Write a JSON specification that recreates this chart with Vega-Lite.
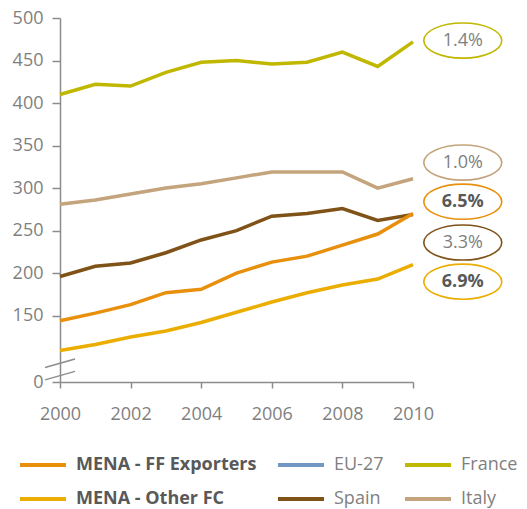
{
  "$schema": "https://vega.github.io/schema/vega-lite/v6.json",
  "width": 353,
  "height": 364,
  "autosize": {"type": "none"},
  "padding": {"left": 60, "top": 18, "right": 114, "bottom": 127},
  "config": {"view": {"stroke": null}, "font": "Open Sans"},
  "datasets": {
    "series": [
      {"series": "France", "year": 2000, "value": 410},
      {"series": "France", "year": 2001, "value": 422},
      {"series": "France", "year": 2002, "value": 420},
      {"series": "France", "year": 2003, "value": 436},
      {"series": "France", "year": 2004, "value": 448},
      {"series": "France", "year": 2005, "value": 450},
      {"series": "France", "year": 2006, "value": 446},
      {"series": "France", "year": 2007, "value": 448},
      {"series": "France", "year": 2008, "value": 460},
      {"series": "France", "year": 2009, "value": 443},
      {"series": "France", "year": 2010, "value": 472},
      {"series": "Italy", "year": 2000, "value": 281},
      {"series": "Italy", "year": 2001, "value": 286},
      {"series": "Italy", "year": 2002, "value": 293},
      {"series": "Italy", "year": 2003, "value": 300},
      {"series": "Italy", "year": 2004, "value": 305},
      {"series": "Italy", "year": 2005, "value": 312},
      {"series": "Italy", "year": 2006, "value": 319},
      {"series": "Italy", "year": 2007, "value": 319},
      {"series": "Italy", "year": 2008, "value": 319},
      {"series": "Italy", "year": 2009, "value": 300},
      {"series": "Italy", "year": 2010, "value": 311},
      {"series": "Spain", "year": 2000, "value": 196},
      {"series": "Spain", "year": 2001, "value": 208},
      {"series": "Spain", "year": 2002, "value": 212},
      {"series": "Spain", "year": 2003, "value": 224},
      {"series": "Spain", "year": 2004, "value": 239},
      {"series": "Spain", "year": 2005, "value": 250},
      {"series": "Spain", "year": 2006, "value": 267},
      {"series": "Spain", "year": 2007, "value": 270},
      {"series": "Spain", "year": 2008, "value": 276},
      {"series": "Spain", "year": 2009, "value": 262},
      {"series": "Spain", "year": 2010, "value": 269},
      {"series": "MENA - FF Exporters", "year": 2000, "value": 144},
      {"series": "MENA - FF Exporters", "year": 2001, "value": 153},
      {"series": "MENA - FF Exporters", "year": 2002, "value": 163},
      {"series": "MENA - FF Exporters", "year": 2003, "value": 177},
      {"series": "MENA - FF Exporters", "year": 2004, "value": 181},
      {"series": "MENA - FF Exporters", "year": 2005, "value": 200},
      {"series": "MENA - FF Exporters", "year": 2006, "value": 213},
      {"series": "MENA - FF Exporters", "year": 2007, "value": 220},
      {"series": "MENA - FF Exporters", "year": 2008, "value": 233},
      {"series": "MENA - FF Exporters", "year": 2009, "value": 246},
      {"series": "MENA - FF Exporters", "year": 2010, "value": 270},
      {"series": "MENA - Other FC", "year": 2000, "value": 109},
      {"series": "MENA - Other FC", "year": 2001, "value": 116},
      {"series": "MENA - Other FC", "year": 2002, "value": 125},
      {"series": "MENA - Other FC", "year": 2003, "value": 132},
      {"series": "MENA - Other FC", "year": 2004, "value": 142},
      {"series": "MENA - Other FC", "year": 2005, "value": 154},
      {"series": "MENA - Other FC", "year": 2006, "value": 166},
      {"series": "MENA - Other FC", "year": 2007, "value": 177},
      {"series": "MENA - Other FC", "year": 2008, "value": 186},
      {"series": "MENA - Other FC", "year": 2009, "value": 193},
      {"series": "MENA - Other FC", "year": 2010, "value": 210}
    ],
    "labels": [
      {"series": "France", "year": 2011.41, "value": 473.5, "label": "1.4%"},
      {"series": "Italy", "year": 2011.41, "value": 330, "label": "1.0%"},
      {"series": "MENA - FF Exporters", "year": 2011.41, "value": 284, "label": "6.5%"},
      {"series": "Spain", "year": 2011.41, "value": 236, "label": "3.3%"},
      {"series": "MENA - Other FC", "year": 2011.41, "value": 190, "label": "6.9%"}
    ],
    "breaks": [
      {"x1": 1999.575, "x2": 2000.425, "y1": 89, "y2": 99},
      {"x1": 1999.575, "x2": 2000.425, "y1": 74.5, "y2": 84.5}
    ]
  },
  "layer": [
    {
      "data": {"name": "series"},
      "mark": {"type": "line", "strokeWidth": 3.5},
      "encoding": {
        "x": {
          "field": "year", "type": "quantitative",
          "scale": {"domain": [2000, 2010], "nice": false},
          "axis": {
            "title": null, "values": [2000, 2002, 2004, 2006, 2008, 2010], "format": "d",
            "grid": false, "tickSize": 6, "labelFontSize": 18, "labelColor": "#7f7f7f",
            "domainColor": "#8c8c8c", "tickColor": "#8c8c8c", "domainWidth": 1.5, "tickWidth": 1.5,
            "labelPadding": 17, "labelFlush": false
          }
        },
        "y": {
          "field": "value", "type": "quantitative",
          "scale": {"domain": [72, 500], "nice": false, "zero": false},
          "axis": {
            "title": null, "values": [72, 150, 200, 250, 300, 350, 400, 450, 500],
            "labelExpr": "datum.value < 100 ? '0' : datum.label",
            "grid": false, "tickSize": 8, "labelFontSize": 18, "labelColor": "#7f7f7f",
            "domainColor": "#8c8c8c", "tickColor": "#8c8c8c", "domainWidth": 1.5, "tickWidth": 1.5,
            "labelPadding": 9
          }
        },
        "color": {
          "field": "series", "type": "nominal",
          "scale": {
            "domain": ["MENA - FF Exporters", "EU-27", "France", "MENA - Other FC", "Spain", "Italy"],
            "range": ["#E8900C", "#7397C5", "#C0B800", "#EBAD00", "#7F5217", "#C4A47C"]
          },
          "legend": {
            "title": null, "orient": "none", "legendX": -42, "legendY": 422,
            "direction": "horizontal",
            "columns": 3, "symbolType": "stroke", "symbolSize": 2116, "symbolStrokeWidth": 4,
            "labelFontSize": 18, "labelOffset": 8, "columnPadding": 13, "rowPadding": -10.5,
            "padding": 0, "labelLimit": 300,
            "encode": {
              "labels": {
                "update": {
                  "fontWeight": {"signal": "indexof(datum.label, 'MENA') >= 0 ? 'bold' : 'normal'"},
                  "fill": {"signal": "indexof(datum.label, 'MENA') >= 0 ? '#595959' : '#7f7f7f'"}
                }
              }
            }
          }
        }
      }
    },
    {
      "data": {"name": "labels"},
      "mark": {
        "type": "point", "filled": false, "strokeWidth": 1.6, "size": 6084, "opacity": 1,
        "shape": "M -1 0 A 1 0.45 0 1 1 1 0 A 1 0.45 0 1 1 -1 0 Z"
      },
      "encoding": {
        "x": {"field": "year", "type": "quantitative"},
        "y": {"field": "value", "type": "quantitative"},
        "color": {"field": "series", "type": "nominal", "legend": null}
      }
    },
    {
      "data": {"name": "labels"},
      "transform": [{"filter": "indexof(datum.series, 'MENA') >= 0"}],
      "mark": {"type": "text", "fontSize": 18, "fontWeight": "bold", "color": "#595959", "align": "center", "baseline": "middle"},
      "encoding": {
        "x": {"field": "year", "type": "quantitative"},
        "y": {"field": "value", "type": "quantitative"},
        "text": {"field": "label"}
      }
    },
    {
      "data": {"name": "labels"},
      "transform": [{"filter": "indexof(datum.series, 'MENA') < 0"}],
      "mark": {"type": "text", "fontSize": 18, "fontWeight": "normal", "color": "#7f7f7f", "align": "center", "baseline": "middle"},
      "encoding": {
        "x": {"field": "year", "type": "quantitative"},
        "y": {"field": "value", "type": "quantitative"},
        "text": {"field": "label"}
      }
    },
    {
      "data": {"name": "breaks"},
      "mark": {"type": "rule", "strokeWidth": 1.5, "color": "#8c8c8c"},
      "encoding": {
        "x": {"field": "x1", "type": "quantitative"},
        "x2": {"field": "x2"},
        "y": {"field": "y1", "type": "quantitative"},
        "y2": {"field": "y2"}
      }
    }
  ]
}
